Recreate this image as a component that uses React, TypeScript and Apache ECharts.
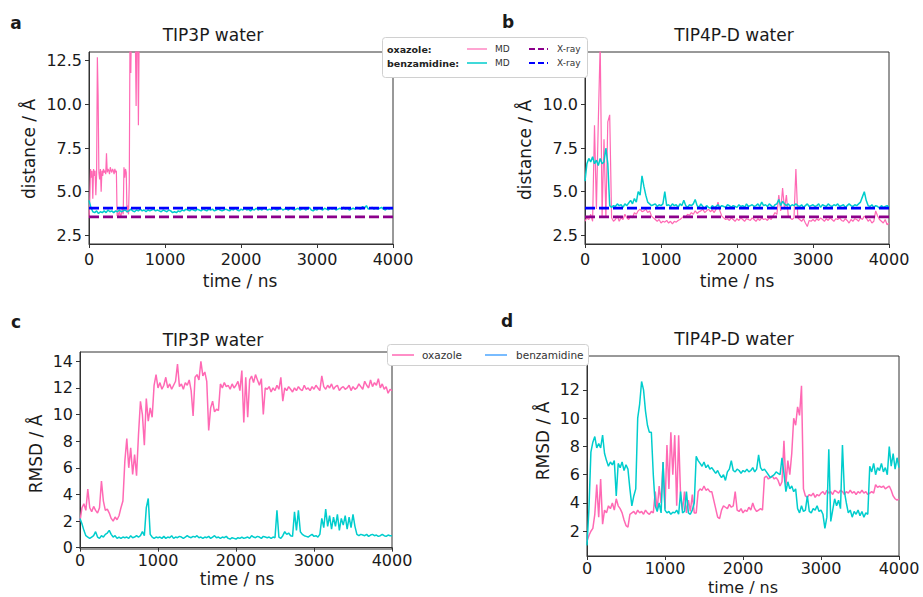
import React, { useEffect, useRef } from 'react';
import * as echarts from 'echarts';

// ---------- data ----------
const STEP = 25; // ns between samples
const A_OXAZOLE_STEP = 10; // ns between samples (panel a oxazole, first 700 ns)
const XRAY_OXAZOLE = 3.55;
const XRAY_BENZAMIDINE = 4.05;

const X_TICKS = [0, 1000, 2000, 3000, 4000];
const A_Y_TICKS = [2.5, 5, 7.5, 10, 12.5];
const B_Y_TICKS = [2.5, 5, 7.5, 10]; // 12.5 is hidden under the legend
const C_Y_TICKS = [0, 2, 4, 6, 8, 10, 12, 14];
const D_Y_TICKS = [2, 4, 6, 8, 10, 12];

// panel a: TIP3P distance
const A_OXAZOLE = [
  3.5, 4.5, 6.3, 5.8, 6.2, 4.6, 6.3, 5.9,
  6.2, 4.8, 6.0, 12.7, 10.5, 6.1, 5.7, 6.3,
  5.0, 6.2, 5.9, 6.3, 6.1, 6.2, 6.0, 7.2,
  6.1, 6.3, 6.2, 6.0, 6.4, 6.2, 6.1, 6.3,
  6.2, 6.0, 6.3, 6.1, 6.2, 3.6, 3.8, 3.6,
  3.9, 3.7, 3.6, 3.8, 4.1, 3.7, 6.4, 5.8,
  6.3, 6.1, 3.8, 4.2, 3.7, 5.5, 14.5, 11.8,
  15, 14, 16, 14.5, 15, 13.8, 9.9, 14.5,
  15, 8.8, 14, 15, 16, 17,
];
const A_BENZAMIDINE = [
  4.5, 4.1, 3.85, 3.8, 3.9, 3.75, 3.85, 3.8,
  3.9, 3.8, 3.95, 3.85, 3.9, 3.8, 3.9, 3.85,
  3.95, 3.85, 3.9, 3.95, 3.85, 3.9, 4.0, 3.9,
  3.85, 3.95, 3.9, 4.0, 3.9, 3.95, 3.85, 3.95,
  3.9, 3.95, 4.0, 3.9, 3.95, 3.9, 3.85, 3.95,
  3.9, 3.85, 3.95, 3.9, 3.8, 3.85, 3.8, 3.9,
  3.85, 3.95, 3.9, 4.0, 3.95, 3.9, 4.0, 3.95,
  3.9, 4.0, 3.95, 3.9, 4.0, 3.95, 3.9, 4.0,
  3.95, 4.0, 3.9, 3.95, 4.0, 3.95, 3.9, 3.95,
  4.0, 3.95, 3.9, 4.0, 3.95, 4.05, 3.95, 3.9,
  4.0, 3.95, 4.05, 3.95, 4.0, 3.9, 4.0, 3.95,
  4.05, 3.95, 4.0, 3.95, 4.05, 4.0, 3.95, 4.0,
  3.95, 4.05, 4.0, 3.95, 4.0, 4.05, 3.95, 4.0,
  4.0, 3.95, 4.05, 4.0, 3.95, 4.0, 4.05, 3.95,
  4.0, 4.05, 3.95, 4.0, 4.1, 3.95, 3.9, 4.0,
  3.95, 4.05, 4.0, 3.95, 4.05, 4.0, 3.95, 4.05,
  4.0, 4.05, 3.95, 4.0, 4.05, 4.0, 4.1, 4.0,
  4.05, 3.95, 4.0, 4.05, 4.0, 4.1, 4.05, 4.0,
  4.15, 4.05, 4.2, 4.0, 4.05, 4.1, 4.0, 4.05,
  4.0, 4.05, 4.1, 4.0, 3.95, 4.05, 4.0, 4.05,
  4.0,
];

// panel b: TIP4P-D distance
const B_OXAZOLE = [
  3.3, 3.5, 3.4, 3.7, 3.3, 8.8, 4.0, 9.0,
  13.5, 3.6, 8.0, 3.5, 9.0, 9.4, 3.5, 3.3,
  3.4, 3.6, 3.3, 3.5, 3.4, 3.7, 3.5, 3.4,
  3.6, 3.5, 3.8, 3.7, 3.9, 4.0, 3.85, 3.9,
  4.0, 3.8, 3.9, 3.6, 3.5, 3.4, 3.3, 3.4,
  3.2, 3.3, 3.25, 3.35, 3.2, 3.3, 3.15, 3.3,
  3.25, 3.35, 3.4, 3.5, 3.6, 3.55, 3.7, 3.65,
  3.8, 3.7, 3.9, 3.75, 3.85, 3.9, 4.0, 3.8,
  3.9, 4.0, 3.85, 3.95, 3.8, 4.0, 4.4, 3.9,
  3.6, 3.5, 3.4, 3.45, 3.35, 3.5, 3.4, 3.3,
  3.45, 3.35, 3.5, 3.4, 3.3, 3.45, 3.4, 3.35,
  3.5, 3.4, 3.3, 3.45, 3.35, 3.5, 3.4, 3.45,
  3.35, 3.5, 3.4, 3.6, 3.8, 3.7, 4.8, 3.9,
  5.2, 4.0, 4.8, 3.6, 3.5, 3.4, 3.5, 6.3,
  3.5, 3.4, 3.3, 3.45, 3.2, 3.0, 3.35, 3.3,
  3.4, 3.3, 3.45, 3.35, 3.5, 3.4, 3.3, 3.45,
  3.35, 3.5, 3.4, 3.3, 3.45, 3.4, 3.5, 3.35,
  3.3, 3.45, 3.35, 3.2, 3.4, 3.3, 3.45, 3.4,
  3.3, 3.5, 3.4, 3.6, 3.5, 3.3, 3.4, 3.2,
  3.3, 3.9, 3.6, 3.4, 3.3, 3.2, 3.4, 3.1,
  3.2,
];
const B_BENZAMIDINE = [
  5.6, 6.6, 6.9, 6.7, 7.0, 6.6, 6.8, 6.5,
  6.9, 6.6, 6.7, 7.5, 6.6, 4.2, 4.1, 4.2,
  4.15, 4.3, 4.2, 4.25, 4.1, 4.3, 4.2, 4.35,
  4.5, 4.3, 4.6, 4.4, 5.0, 4.8, 5.9, 5.3,
  4.8, 4.4, 4.3, 4.2, 4.25, 4.3, 4.15, 4.25,
  4.2, 4.3, 5.0, 4.2, 4.25, 4.15, 4.3, 4.2,
  4.25, 4.1, 4.3, 4.2, 4.5, 4.2, 4.1, 4.25,
  4.2, 4.3, 4.55, 4.2, 4.1, 4.3, 4.15, 4.05,
  4.2, 4.1, 4.05, 4.2, 4.1, 4.15, 4.25, 4.1,
  4.2, 4.15, 4.1, 4.25, 4.2, 4.1, 4.2, 4.15,
  4.1, 4.25, 4.15, 4.2, 4.1, 4.3, 4.15, 4.2,
  4.25, 4.15, 4.2, 4.3, 4.15, 4.4, 4.2, 4.25,
  4.15, 4.3, 4.2, 4.1, 4.25, 4.3, 4.55, 4.2,
  4.45, 4.3, 4.2, 4.3, 4.15, 4.25, 4.2, 4.3,
  4.2, 4.15, 4.25, 4.1, 4.2, 4.3, 4.15, 4.2,
  4.25, 4.15, 4.2, 4.3, 4.1, 4.25, 4.2, 4.15,
  4.3, 4.2, 4.15, 4.25, 4.2, 4.3, 4.15, 4.2,
  4.25, 4.1, 4.2, 4.3, 4.2, 4.15, 4.25, 4.2,
  4.3, 4.4, 4.7, 5.0, 4.5, 4.2, 4.15, 4.25,
  4.1, 4.2, 4.15, 4.05, 4.2, 4.1, 4.15, 4.2,
  4.1,
];

// panel c: TIP3P RMSD
const C_OXAZOLE = [
  2.0, 3.0, 3.3, 2.8, 4.4, 3.0, 2.7, 3.1,
  2.8, 2.6, 3.0, 5.0, 3.5, 2.8, 2.9, 2.6,
  2.2, 2.0, 2.3, 2.1, 2.4, 3.0, 3.5, 6.5,
  8.2, 6.0, 7.5, 5.5, 7.0, 5.4, 8.5, 11.0,
  10.0, 7.7, 11.2, 9.5, 10.5, 9.8, 12.2, 13.0,
  12.0, 12.4, 11.9, 12.2, 12.8, 12.0, 12.3, 11.9,
  12.2, 12.5, 13.8, 12.1, 12.3, 11.9, 12.4, 12.2,
  12.6, 11.8, 9.9, 12.8, 13.0, 12.6, 14.0, 12.9,
  13.2, 12.5, 8.8, 10.5, 11.0, 10.2, 10.4, 10.3,
  12.3, 12.0, 12.4, 12.1, 12.2, 11.9, 12.3, 12.0,
  12.2, 12.5, 11.8, 13.3, 9.4, 12.8, 9.8, 12.6,
  12.9, 12.4, 13.0, 12.6, 12.2, 12.7, 10.0, 12.0,
  11.9, 12.1, 11.7, 12.0, 11.8, 12.2, 11.9, 12.8,
  11.0, 12.0, 11.8, 12.1, 11.9, 11.7, 12.0, 11.8,
  12.1, 11.9, 11.8, 12.2, 11.9, 12.0, 11.8, 12.1,
  11.9, 12.2, 12.0, 11.8, 12.9, 12.1, 11.9, 12.2,
  12.0, 12.3, 11.9, 12.1, 12.2, 11.8, 12.0, 12.1,
  11.9, 12.0, 12.2, 11.8, 12.1, 11.9, 12.0, 12.3,
  12.1, 11.9, 12.5, 12.2, 12.0, 12.6, 12.1, 12.4,
  12.2, 12.7, 12.0, 12.3, 11.9, 12.1, 11.6, 11.9,
  11.8,
];
const C_BENZAMIDINE = [
  2.2, 1.8, 1.3, 0.9, 0.8, 0.7, 0.8, 0.9,
  1.2, 0.8, 0.7, 0.9, 0.8, 1.0, 1.1, 1.3,
  1.0, 0.8, 0.9, 0.7, 0.8, 0.7, 0.8, 0.75,
  0.8, 0.7, 0.9, 0.75, 0.8, 0.9, 0.8, 0.9,
  1.2, 0.9, 3.0, 3.7, 1.0, 0.8, 0.7, 0.8,
  0.75, 0.8, 0.7, 0.85, 0.7, 0.8, 0.75, 0.9,
  0.7, 0.8, 0.75, 0.85, 0.8, 0.7, 0.8, 0.9,
  0.8, 0.75, 0.85, 0.8, 0.9, 0.75, 0.8, 0.7,
  0.8, 0.75, 0.85, 0.7, 0.8, 0.9, 0.75, 0.8,
  0.7, 0.8, 0.75, 0.85, 0.7, 0.65, 0.75, 0.7,
  0.65, 0.75, 0.7, 0.8, 0.7, 0.75, 0.8, 0.7,
  0.9, 0.8, 0.75, 0.85, 0.8, 0.7, 0.85, 0.8,
  0.75, 0.8, 0.7, 0.8, 0.75, 2.8, 0.8, 0.7,
  0.9, 1.2, 1.0, 1.1, 0.9, 0.85, 2.7, 1.3,
  2.8, 1.2, 1.0, 0.9, 0.85, 0.8, 0.9, 1.0,
  0.85, 0.9, 0.8, 1.0, 2.2, 1.5, 2.9, 1.6,
  2.4, 1.4, 2.3, 1.6, 2.5, 1.3, 2.2, 1.7,
  2.4, 1.4, 2.3, 1.5, 2.5, 1.6, 1.0, 0.9,
  1.0, 0.95, 0.9, 1.0, 0.85, 0.95, 1.0, 0.9,
  0.95, 0.85, 0.9, 1.0, 0.9, 0.85, 0.95, 0.9,
  0.9,
];

// panel d: TIP4P-D RMSD
const D_OXAZOLE = [
  1.3, 1.7, 2.0, 2.2, 3.2, 5.3, 3.0, 5.7,
  2.5, 3.5, 3.3, 3.8, 3.6, 4.0, 3.5, 4.3,
  3.8, 3.6, 3.3, 2.8, 2.4, 2.3, 3.2, 3.3,
  3.4, 3.2, 3.5, 3.3, 3.4, 3.2, 3.5, 3.3,
  3.2, 3.4, 3.3, 4.8, 3.5, 5.2, 4.0, 6.9,
  3.6, 8.1, 5.0, 9.0, 6.0, 8.8, 3.8, 8.8,
  4.5, 3.5, 4.8, 3.3, 4.2, 3.4, 4.6, 3.3,
  3.3, 4.8, 5.0, 4.9, 5.2, 4.9, 5.0, 4.8,
  4.8, 4.2, 3.6, 3.0, 2.9, 3.5, 3.8, 3.7,
  3.6, 3.9, 3.7, 3.8, 4.8, 3.5, 3.4, 3.6,
  3.3, 3.5, 3.4, 3.7, 3.5, 4.0, 3.6, 3.4,
  3.5, 3.6, 3.5, 5.8, 5.9, 5.7, 5.8, 5.9,
  5.7, 5.8, 5.6, 5.2, 5.5, 8.4, 5.3, 7.0,
  6.0, 7.5, 10.0, 9.5, 10.8, 10.2, 12.3, 5.0,
  4.5, 4.4, 4.6, 4.5, 4.7, 4.4, 4.6, 4.5,
  4.7, 4.8, 4.6, 4.9, 4.7, 4.8, 4.6, 4.9,
  4.8, 4.7, 4.9, 4.8, 4.6, 4.8, 4.7, 4.9,
  4.7, 4.8, 4.6, 4.8, 4.7, 4.9, 4.7, 4.8,
  4.6, 4.7, 4.8, 4.7, 5.3, 5.1, 5.2, 5.1,
  5.2, 5.0, 5.1, 5.2, 4.9, 4.5, 4.3, 4.2,
  4.3,
];
const D_BENZAMIDINE = [
  1.0, 3.6, 7.6, 8.3, 8.7, 7.9, 8.2, 7.9,
  8.8, 7.5, 7.0, 6.6, 6.9, 6.7, 7.0, 4.5,
  6.8, 6.5, 6.9, 6.3, 6.7, 6.4, 5.0, 3.8,
  4.5, 5.0, 10.0, 11.0, 12.6, 12.0, 10.5, 9.5,
  9.0, 9.0, 6.0, 3.8, 3.4, 4.0, 3.3, 6.9,
  3.5, 3.3, 3.4, 3.2, 3.35, 3.3, 3.5, 3.2,
  4.8, 3.3, 3.4, 4.8, 3.3, 3.2, 3.5, 4.0,
  7.3, 7.0, 6.8, 6.6, 6.9, 6.5, 6.7, 6.4,
  6.5, 6.3, 6.1, 6.3, 6.0, 5.8, 6.0, 5.6,
  6.2, 6.4, 7.0, 6.3, 6.2, 6.4, 6.3, 6.1,
  6.3, 6.2, 6.4, 6.2, 6.3, 6.5, 6.2, 6.4,
  7.4, 6.5, 6.3, 6.4, 6.2, 6.0, 5.8, 5.9,
  6.0, 6.2, 6.1, 6.0, 7.2, 6.1, 4.8, 5.5,
  5.0, 5.2, 4.8, 5.0, 3.6, 3.3, 3.8, 3.4,
  3.5, 4.5, 3.4, 3.3, 3.6, 3.5, 3.8, 3.4,
  3.5, 3.2, 2.2, 3.0, 7.8, 2.7, 3.5, 4.3,
  3.8, 4.2, 3.6, 8.1, 4.8, 4.0, 3.3, 3.5,
  3.0, 3.4, 3.2, 3.5, 3.1, 3.4, 3.0, 3.3,
  3.2, 6.6, 6.2, 6.8, 6.0, 6.5, 6.3, 6.8,
  6.2, 6.5, 6.0, 8.0, 6.6, 7.5, 6.4, 7.2,
  6.5,
];

// ---------- styling ----------
const PINK = '#ff69b4';
const CYAN = '#00cdcd';
const PURPLE = '#8b008b';
const BLUE = '#0000ff';
const LEGEND_BLUE = '#4da6ff';
const FONT = 'DejaVu Sans, sans-serif';
const TEXT = '#1a1a1a';
const FRAME = '#333333';

const pairs = (vals: number[], step: number) => vals.map((v, i) => [i * step, v]);
const flat = (v: number) => [[X_TICKS[0], v], [X_TICKS[X_TICKS.length - 1], v]];

const fmt1 = (v: number) => v.toFixed(1);
const fmt0 = (v: number) => String(Math.round(v));

function makeX(gridIndex: number, margin: number) {
  return {
    type: 'value', gridIndex, min: X_TICKS[0], max: X_TICKS[X_TICKS.length - 1], interval: 1000,
    axisLine: { show: true, lineStyle: { color: FRAME, width: 1 } },
    axisTick: { show: true, inside: false, length: 4, lineStyle: { color: FRAME } },
    axisLabel: { fontSize: 16, color: TEXT, fontFamily: FONT, margin, formatter: (v: number) => String(v) },
    splitLine: { show: false },
  };
}
function makeY(gridIndex: number, min: number, max: number, ticks: number[], f: (v: number) => string) {
  return {
    type: 'value', gridIndex, min, max,
    axisLine: { show: true, lineStyle: { color: FRAME, width: 1 } },
    axisTick: { show: true, inside: false, length: 4, lineStyle: { color: FRAME }, customValues: ticks },
    axisLabel: { fontSize: 16, color: TEXT, fontFamily: FONT, margin: 7, customValues: ticks, formatter: (v: number) => f(v) },
    splitLine: { show: false },
  };
}
function lineSeries(idx: number, data: number[][], color: string, width: number, dashed = false) {
  return {
    type: 'line', xAxisIndex: idx, yAxisIndex: idx, data, showSymbol: false, symbol: 'none',
    clip: true, silent: true,
    lineStyle: { color, width, type: dashed ? [10, 4] : 'solid' },
  };
}

function txt(text: string, x: number, y: number, size: number, opts: any = {}) {
  return {
    type: 'text', x, y, rotation: opts.rotation || 0, z: opts.z || 50,
    style: {
      text, fontSize: size, fontFamily: FONT, fill: opts.fill || TEXT,
      fontWeight: opts.bold ? 'bold' : 'normal',
      align: opts.align || 'center', verticalAlign: 'middle',
    },
  };
}

export default function App() {
  const ref = useRef<HTMLDivElement>(null);
  useEffect(() => {
    if (!ref.current) return;
    const chart = echarts.init(ref.current, undefined, { renderer: 'svg' });
    const gridBase = { show: true, borderColor: FRAME, borderWidth: 1, backgroundColor: 'transparent', containLabel: false };
    const option: any = {
      animation: false,
      backgroundColor: '#ffffff',
      grid: [
        { ...gridBase, left: 89, top: 52, width: 304, height: 192 },
        { ...gridBase, left: 585, top: 52, width: 304, height: 192 },
        { ...gridBase, left: 80, top: 352, width: 312, height: 197 },
        { ...gridBase, left: 587, top: 356, width: 312, height: 200 },
      ],
      xAxis: [makeX(0, 7), makeX(1, 7), makeX(2, 3), makeX(3, 4)],
      yAxis: [
        makeY(0, 2, 13, A_Y_TICKS, fmt1),
        makeY(1, 2, 13, B_Y_TICKS, fmt1),
        makeY(2, -0.1, 14.7, C_Y_TICKS, fmt0),
        makeY(3, 0.25, 14.4, D_Y_TICKS, fmt0),
      ],
      series: [
        lineSeries(0, pairs(A_OXAZOLE, A_OXAZOLE_STEP), PINK, 1.2),
        lineSeries(0, pairs(A_BENZAMIDINE, STEP), CYAN, 1.5),
        lineSeries(0, flat(XRAY_OXAZOLE), PURPLE, 2.8, true),
        lineSeries(0, flat(XRAY_BENZAMIDINE), BLUE, 2.8, true),
        lineSeries(1, pairs(B_OXAZOLE, STEP), PINK, 1.2),
        lineSeries(1, pairs(B_BENZAMIDINE, STEP), CYAN, 1.5),
        lineSeries(1, flat(XRAY_OXAZOLE), PURPLE, 2.8, true),
        lineSeries(1, flat(XRAY_BENZAMIDINE), BLUE, 2.8, true),
        lineSeries(2, pairs(C_OXAZOLE, STEP), PINK, 1.5),
        lineSeries(2, pairs(C_BENZAMIDINE, STEP), CYAN, 1.5),
        lineSeries(3, pairs(D_OXAZOLE, STEP), PINK, 1.5),
        lineSeries(3, pairs(D_BENZAMIDINE, STEP), CYAN, 1.5),
      ],
      graphic: [
        // panel letters
        txt('a', 16, 23, 17, { bold: true }),
        txt('b', 508, 22, 17, { bold: true }),
        txt('c', 16, 322, 17, { bold: true }),
        txt('d', 507, 321, 17, { bold: true }),
        // titles
        txt('TIP3P water', 213, 35, 17),
        txt('TIP4P-D water', 734, 35, 17),
        txt('TIP3P water', 213, 340, 17),
        txt('TIP4P-D water', 734, 339, 17),
        // axis names
        txt('distance / Å', 29, 149, 17, { rotation: Math.PI / 2 }),
        txt('distance / Å', 525, 150, 17, { rotation: Math.PI / 2 }),
        txt('RMSD / Å', 36, 454, 17, { rotation: Math.PI / 2 }),
        txt('RMSD / Å', 543, 441, 17, { rotation: Math.PI / 2 }),
        txt('time / ns', 240, 281, 17),
        txt('time / ns', 737, 281, 17),
        txt('time / ns', 237, 579, 17),
        txt('time / ns', 743, 587, 16),
        // legend 1 (distance)
        { type: 'rect', z: 90, shape: { x: 382.5, y: 37.5, width: 205, height: 40, r: 3 }, style: { fill: '#ffffff', stroke: '#d0d0d0', lineWidth: 1 } },
        txt('oxazole:', 387, 49, 9.5, { bold: true, align: 'left', z: 95, fill: '#222' }),
        txt('benzamidine:', 387, 63, 9.5, { bold: true, align: 'left', z: 95, fill: '#222' }),
        { type: 'line', z: 95, shape: { x1: 467, y1: 49, x2: 487, y2: 49 }, style: { stroke: PINK, lineWidth: 1.2 } },
        { type: 'line', z: 95, shape: { x1: 467, y1: 63, x2: 487, y2: 63 }, style: { stroke: CYAN, lineWidth: 1.5 } },
        txt('MD', 495, 49, 9, { align: 'left', z: 95, fill: '#333' }),
        txt('MD', 495, 63, 9, { align: 'left', z: 95, fill: '#333' }),
        { type: 'line', z: 95, shape: { x1: 529, y1: 49, x2: 548, y2: 49 }, style: { stroke: PURPLE, lineWidth: 2, lineDash: [6, 3] } },
        { type: 'line', z: 95, shape: { x1: 529, y1: 63, x2: 548, y2: 63 }, style: { stroke: BLUE, lineWidth: 2, lineDash: [6, 3] } },
        txt('X-ray', 557, 49, 9, { align: 'left', z: 95, fill: '#333' }),
        txt('X-ray', 557, 63, 9, { align: 'left', z: 95, fill: '#333' }),
        // legend 2 (RMSD)
        { type: 'rect', z: 90, shape: { x: 387.5, y: 344.5, width: 201, height: 21, r: 3 }, style: { fill: '#ffffff', stroke: '#d0d0d0', lineWidth: 1 } },
        { type: 'line', z: 95, shape: { x1: 392, y1: 355, x2: 414, y2: 355 }, style: { stroke: PINK, lineWidth: 1.5 } },
        txt('oxazole', 422, 355, 10.5, { align: 'left', z: 95, fill: '#333' }),
        { type: 'line', z: 95, shape: { x1: 485, y1: 355, x2: 507, y2: 355 }, style: { stroke: LEGEND_BLUE, lineWidth: 1.5 } },
        txt('benzamidine', 516, 355, 10.5, { align: 'left', z: 95, fill: '#333' }),
      ],
    };
    chart.setOption(option);
    return () => chart.dispose();
  }, []);
  return (
    <div
      ref={ref}
      style={{ position: 'fixed', left: 0, top: 0, width: 923, height: 597, background: '#fff' }}
    />
  );
}
